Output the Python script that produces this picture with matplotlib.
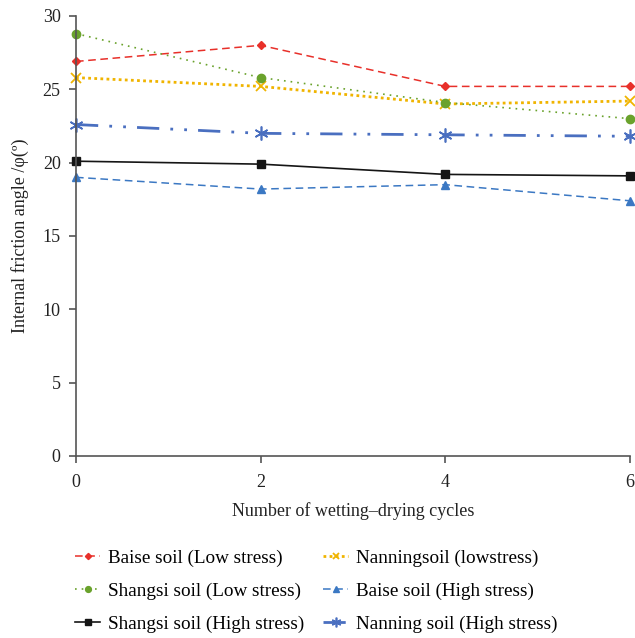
import numpy as np
import matplotlib
matplotlib.use('Agg')
import matplotlib.pyplot as plt

plt.rcParams['font.family'] = ['Liberation Serif', 'DejaVu Serif']

# Anzahl der Zyklen
cycles = [0, 2, 4, 6]

# Reibungswinkel in Grad
baise_low = [26.9, 28.0, 25.2, 25.2]
nanning_low = [25.8, 25.2, 24.0, 24.2]
shangsi_low = [28.8, 25.8, 24.1, 23.0]
baise_high = [19.0, 18.2, 18.5, 17.4]
shangsi_high = [20.1, 19.9, 19.2, 19.1]
nanning_high = [22.6, 22.0, 21.9, 21.8]

labels = ['Baise soil (Low stress)', 'Nanningsoil (lowstress)',
          'Shangsi soil (Low stress)', 'Baise soil (High stress)',
          'Shangsi soil (High stress)', 'Nanning soil (High stress)']

fig = plt.figure(figsize=(6.35, 6.38), dpi=100)
ax = fig.add_axes([76/635, 1-456/638, 554/635, 440/638])

l1, = ax.plot(cycles, baise_low, color='#e8302a', ls=(0, (5, 3)), lw=1.1,
              marker='D', ms=4.5, clip_on=False, label=labels[0])
l2, = ax.plot(cycles, nanning_low, color='#f0b400', ls=(0, (1, 1.2)), lw=2.0,
              marker='x', ms=7, mew=1.3, clip_on=False, label=labels[1])
l3, = ax.plot(cycles, shangsi_low, color='#6aa22c', ls=(0, (1, 3)), lw=1.2,
              marker='o', ms=6, clip_on=False, label=labels[2])
l4, = ax.plot(cycles, baise_high, color='#3b78c3', ls=(0, (5, 3)), lw=1.1,
              marker='^', ms=6, clip_on=False, label=labels[3])
l5, = ax.plot(cycles, shangsi_high, color='#151515', ls='-', lw=1.2,
              marker='s', ms=6, clip_on=False, label=labels[4])
l6, = ax.plot(cycles, nanning_high, color='#4a6fc0', ls=(0, (8, 4, 1, 4, 1, 4)),
              lw=2.0, marker=(6, 2, 0), ms=10, mew=1.2, clip_on=False,
              label=labels[5])

ax.set_xlim(0, 6)
ax.set_ylim(0, 30)
ax.set_xticks([0, 2, 4, 6])
ax.set_yticks(np.arange(0, 31, 5))
for s in ['top', 'right']:
    ax.spines[s].set_visible(False)
for s in ['left', 'bottom']:
    ax.spines[s].set_color('#555555')
    ax.spines[s].set_linewidth(1.2)
ax.tick_params(direction='out', length=5, width=1.2, color='#555555',
               labelsize=13, colors='#222222')
ax.tick_params(axis='y', pad=6)
ax.tick_params(axis='x', pad=8)
ax.set_xlabel('Number of wetting\u2013drying cycles', fontsize=13,
              color='#222222', labelpad=8)
ax.set_ylabel('Internal friction angle /\u03c6(\u00ba)', fontsize=13,
              color='#222222', labelpad=10)

# Spaltenweise Reihenfolge wie im Original
handles = [l1, l3, l5, l2, l4, l6]
fig.legend(handles, [h.get_label() for h in handles],
           loc='upper left', bbox_to_anchor=(58/635, 1-532/638), ncol=2,
           frameon=False, fontsize=13.8, handlelength=1.3, handletextpad=0.4,
           columnspacing=1.0, labelspacing=0.82, markerscale=0.7)

plt.savefig('out.png', dpi=100)
